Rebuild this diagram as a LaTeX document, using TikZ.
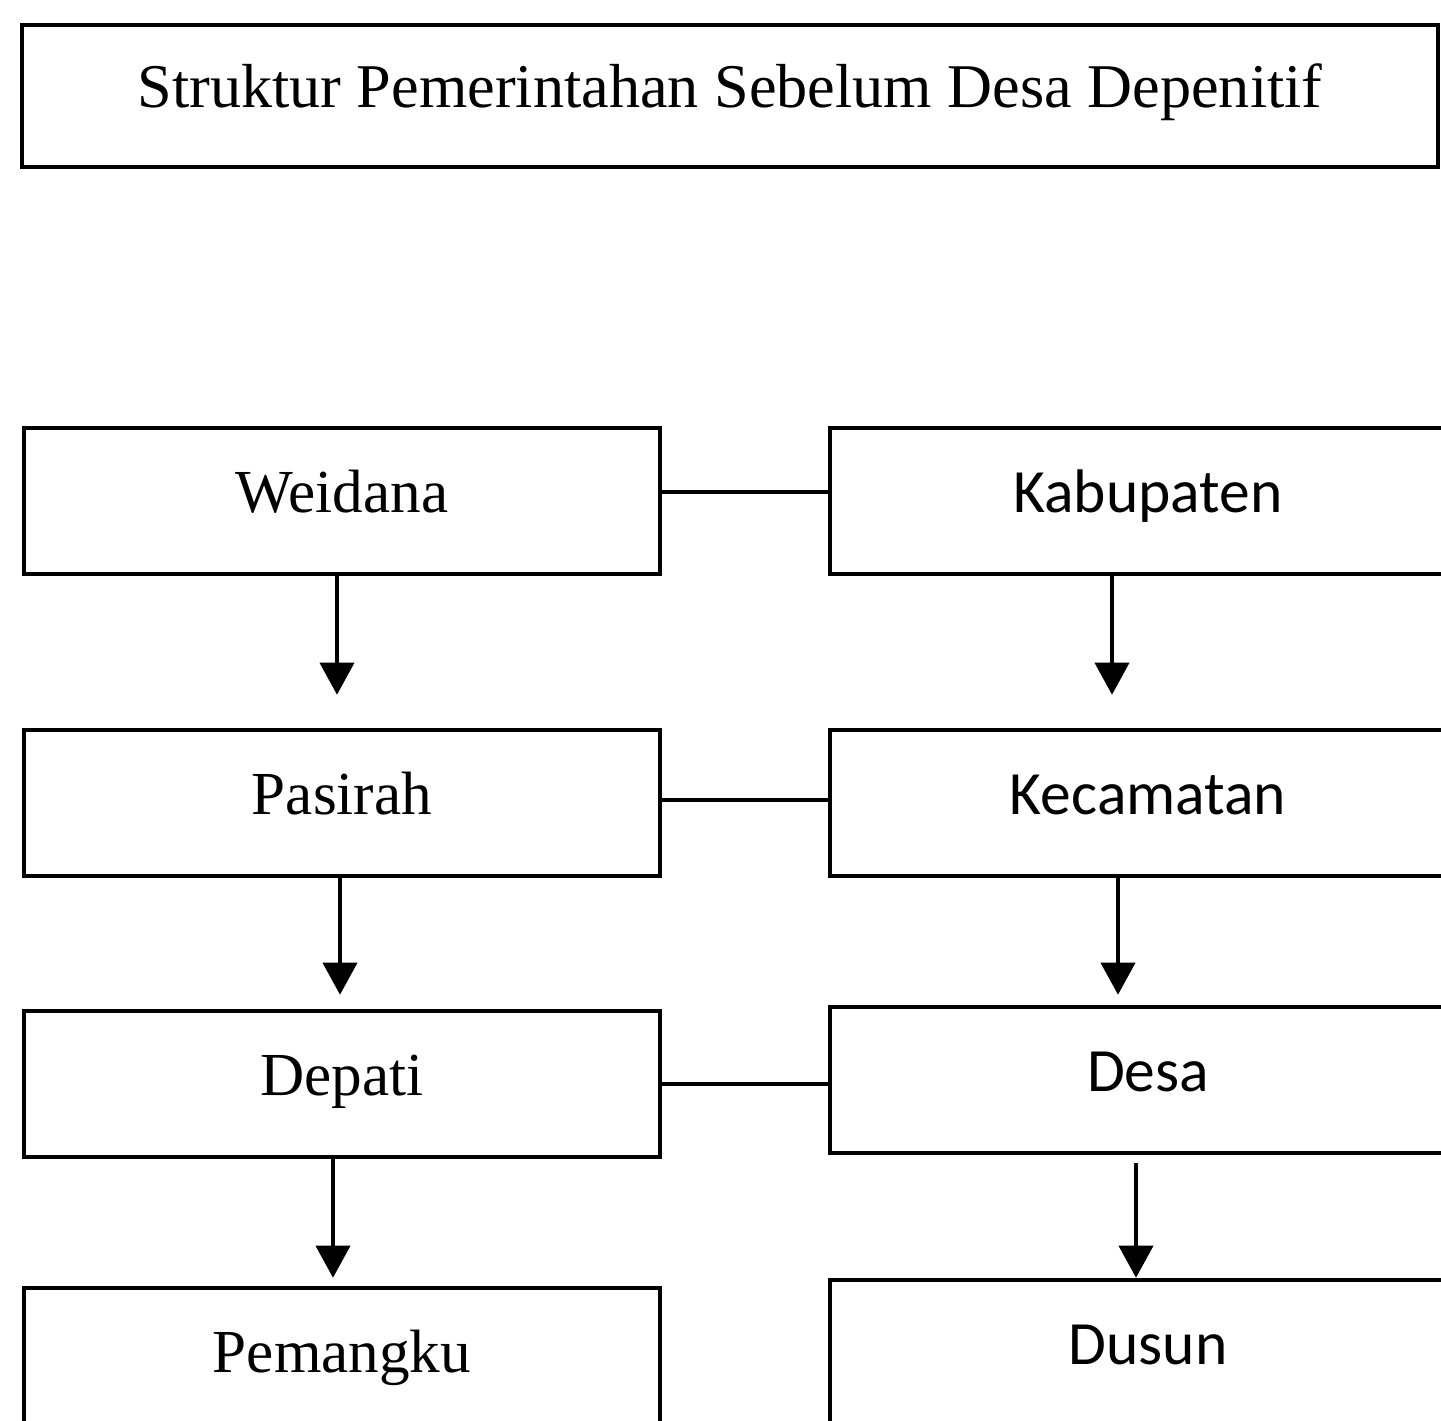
\documentclass[tikz,border=0pt]{standalone}
\usepackage{fontspec}
\newfontfamily\timesc{Liberation Serif}
\newfontfamily\calibric{Carlito}
\usetikzlibrary{arrows.meta,positioning}

\begin{document}
\begin{tikzpicture}[x=0.1mm, y=-0.1mm, >={Triangle[width=3.4mm,length=3.2mm]},
	kotak/.style={rectangle, draw, line width=1.3pt, minimum width=63.6mm, minimum height=14.6mm, inner sep=0pt, text height=4.2mm, text depth=2mm},
	kiri/.style={kotak, font=\timesc\fontsize{17.4}{21}\selectfont},
	kanan/.style={kotak, font=\calibric\fontsize{17.5}{21}\selectfont},
	judul/.style={kotak, minimum width=141.6mm, minimum height=14.2mm, font=\timesc\fontsize{17.7}{21}\selectfont},
	garis/.style={line width=1.1pt},
	panah/.style={garis, ->}]
	\useasboundingbox (0,0) rectangle (1441,1421);

	\node[judul] (judul) at (730,96)      {Struktur Pemerintahan Sebelum Desa Depenitif};

	% kolom kiri
	\node[kiri] (weidana)  at (342,501)   {Weidana};
	\node[kiri] (pasirah)  at (342,803)   {Pasirah};
	\node[kiri] (depati)   at (342,1084)  {Depati};
	\node[kiri] (pemangku) at (342,1361)  {Pemangku};

	% kolom kanan
	\node[kanan] (kabupaten) at (1148,501)  {Kabupaten};
	\node[kanan] (kecamatan) at (1148,803)  {Kecamatan};
	\node[kanan] (desa)      at (1148,1080) {Desa};
	\node[kanan] (dusun)     at (1148,1353) {Dusun};

	\draw[garis] ([yshift=0.9mm]weidana.east) -- ([yshift=0.9mm]weidana.east -| kabupaten.west);
	\draw[garis] ([yshift=0.3mm]pasirah.east) -- ([yshift=0.3mm]pasirah.east -| kecamatan.west);
	\draw[garis] (depati.east) -- (depati.east -| desa.west);

	\draw[panah] ([xshift=-0.5mm]weidana.south) -- ([xshift=-0.5mm, yshift=3.3mm]pasirah.north);
	\draw[panah] ([xshift=-0.2mm]pasirah.south) -- ([xshift=-0.2mm, yshift=1.4mm]depati.north);
	\draw[panah] ([xshift=-0.9mm]depati.south) -- ([xshift=-0.9mm, yshift=0.8mm]pemangku.north);
	\draw[panah] ([xshift=-3.6mm]kabupaten.south) -- ([xshift=-3.6mm, yshift=3.3mm]kecamatan.north);
	\draw[panah] ([xshift=-3mm]kecamatan.south) -- ([xshift=-3mm, yshift=1mm]desa.north);
	\draw[panah] ([xshift=-1.2mm, yshift=-0.8mm]desa.south) -- ([xshift=-1.2mm]dusun.north);
\end{tikzpicture}
\end{document}
